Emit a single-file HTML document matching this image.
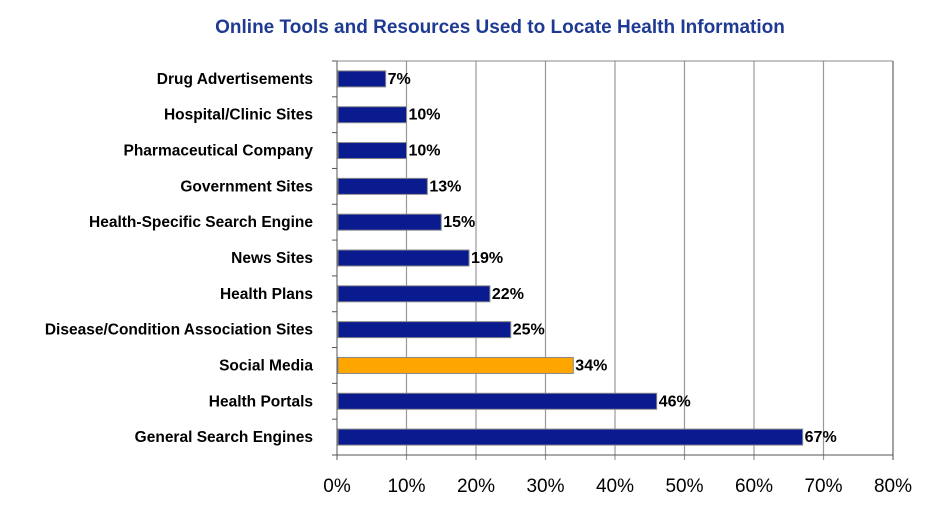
<!DOCTYPE html>
<html><head><meta charset="utf-8"><style>
body{margin:0;background:#fff;width:939px;height:514px;overflow:hidden;font-family:"Liberation Sans",Arial,sans-serif}
</style></head><body>
<svg id="chart" width="939" height="514" xmlns="http://www.w3.org/2000/svg">
<text x="500" y="33" text-anchor="middle" font-size="19" font-weight="bold" fill="#1f3a93">Online Tools and Resources Used to Locate Health Information</text>
<g id="grid"></g><g id="bars"></g><g id="labels"></g>
</svg>
<script>
const categories=["Drug Advertisements","Hospital/Clinic Sites","Pharmaceutical Company","Government Sites","Health-Specific Search Engine","News Sites","Health Plans","Disease/Condition Association Sites","Social Media","Health Portals","General Search Engines"];
const values=[7,10,10,13,15,19,22,25,34,46,67];
const highlight=["Social Media"];
const ticks=[0,10,20,30,40,50,60,70,80];
const X0=337,X1=893,MAX=80,TOP=61,BOT=455;
const x=v=>X0+(X1-X0)*v/MAX;
const band=(BOT-TOP)/categories.length;
const y=i=>TOP+band*(i+0.5);
const NS="http://www.w3.org/2000/svg";
function mk(t,a,p){const e=document.createElementNS(NS,t);for(const k in a)e.setAttribute(k,a[k]);p.appendChild(e);return e;}
const g=document.getElementById('grid'),b=document.getElementById('bars'),l=document.getElementById('labels');
ticks.forEach(t=>{
 const ln=mk('line',{x1:x(t),x2:x(t),y1:TOP,y2:BOT+5,stroke:t===0?'#555':(t===MAX?'#444':'#999'),'stroke-width':t===0||t===MAX?1:1.2},g);
 
 
 const tx=mk('text',{x:x(t),y:BOT+37,'text-anchor':'middle','font-size':19,fill:'#000'},l);
 tx.textContent=t+'%';
 
 
});
const topLine=mk('line',{x1:X0,x2:X1,y1:TOP,y2:TOP,stroke:'#888','stroke-width':1},g);


const ax=mk('line',{x1:X0-5,x2:X1,y1:BOT,y2:BOT,stroke:'#555','stroke-width':1},g);


for(let i=0;i<=categories.length;i++){
 const tk=mk('line',{x1:X0-5,x2:X0,y1:TOP+band*i,y2:TOP+band*i,stroke:'#555'},g);
 
 
}
categories.forEach((c,i)=>{
 const v=values[i],hl=highlight.includes(c);
 const r=mk('rect',{x:X0+1,y:y(i)-8,width:x(v)-X0-1,height:16,fill:hl?'#ffa500':'#0a1a8f',stroke:'#888','stroke-width':1},b);
 
 
 const vt=mk('text',{x:x(v)+2,y:y(i)+5,'font-size':16,'font-weight':'bold',fill:'#000'},l);
 vt.textContent=v+'%';
 
 
 const ct=mk('text',{x:313,y:y(i)+5,'text-anchor':'end','font-size':15.5,'font-weight':'bold',fill:'#000'},l);
 ct.textContent=c;
 
 
});
</script>
</body></html>
